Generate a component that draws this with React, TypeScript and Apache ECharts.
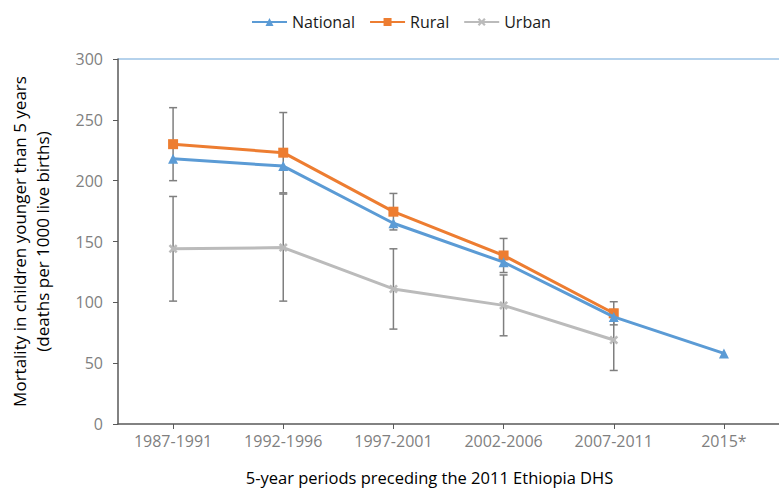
import React, { useEffect, useRef } from "react";
import * as echarts from "echarts";

const categories = ["1987-1991", "1992-1996", "1997-2001", "2002-2006", "2007-2011", "2015*"];
const nationalValues = [218, 212, 165, 133, 88, 58];
const ruralValues = [230, 223, 174.5, 138.5, 91, null];
const urbanValues = [144, 145, 111, 97.5, 69, null];
const ruralErrors = [30, 33, 15, 14, 9.5, null];
const urbanErrors = [43, 44, 33, 25, 25, null];
const yTicks = [0, 50, 100, 150, 200, 250, 300];

const FONT = "'Open Sans', 'Noto Sans', sans-serif";
const X_SYMBOL = "path://M2,0 L5,3 L8,0 L10,2 L7,5 L10,8 L8,10 L5,7 L2,10 L0,8 L3,5 L0,2 Z";

function errorData(values: (number | null)[], errs: (number | null)[]) {
  const out: number[][] = [];
  values.forEach((v, i) => {
    const e = errs[i];
    if (v != null && e != null) out.push([i, v - e, v + e]);
  });
  return out;
}

function errorSeries(name: string, values: (number | null)[], errs: (number | null)[]) {
  return {
    type: "custom",
    name: name + "-err",
    z: 1,
    silent: true,
    data: errorData(values, errs),
    encode: { x: 0, y: [1, 2] },
    renderItem: (params: any, api: any) => {
      const lo = api.coord([api.value(0), api.value(1)]);
      const hi = api.coord([api.value(0), api.value(2)]);
      const half = 4;
      const style = { stroke: "#7F7F7F", lineWidth: 1.5 };
      return {
        type: "group",
        children: [
          { type: "line", shape: { x1: lo[0], y1: lo[1], x2: hi[0], y2: hi[1] }, style },
          { type: "line", shape: { x1: lo[0] - half, y1: lo[1], x2: lo[0] + half, y2: lo[1] }, style },
          { type: "line", shape: { x1: hi[0] - half, y1: hi[1], x2: hi[0] + half, y2: hi[1] }, style },
        ],
      };
    },
  };
}

export default function App() {
  const ref = useRef<HTMLDivElement>(null);
  useEffect(() => {
    if (!ref.current) return;
    const chart = echarts.init(ref.current, undefined, { renderer: "svg" });
    const splitColors = yTicks.map((t) => (t === 300 ? "#9DC3E6" : "rgba(0,0,0,0)"));
    chart.setOption({
      animation: false,
      textStyle: { fontFamily: FONT },
      legend: {
        top: 9,
        left: 246,
        itemWidth: 35,
        itemHeight: 10,
        itemGap: 14,
        textStyle: { fontSize: 16, color: "#1a1a1a", fontFamily: FONT },
        data: ["National", "Rural", "Urban"],
      },
      grid: { left: 118, right: 0, top: 59, bottom: 68, containLabel: false },
      xAxis: {
        type: "category",
        data: categories,
        boundaryGap: true,
        axisLine: { show: true, lineStyle: { color: "#595959", width: 1.5 } },
        axisTick: { show: true, alignWithLabel: true, length: 5, lineStyle: { color: "#595959" } },
        axisLabel: { color: "#7F7F7F", fontSize: 16, margin: 9, fontFamily: FONT },
        name: "5-year periods preceding the 2011 Ethiopia DHS",
        nameLocation: "middle",
        nameGap: 45,
        nameTextStyle: { fontSize: 16.5, color: "#000", fontFamily: FONT, padding: [0, 38, 0, 0] },
      },
      yAxis: {
        type: "value",
        min: 0,
        max: 300,
        interval: 50,
        axisLine: { show: true, lineStyle: { color: "#595959", width: 1.5 } },
        axisTick: { show: true, length: 5, lineStyle: { color: "#595959" } },
        axisLabel: { color: "#7F7F7F", fontSize: 16, margin: 15, fontFamily: FONT },
        splitLine: { show: true, lineStyle: { color: splitColors, width: 1.5 } },
        name: "Mortality in children younger than 5 years\n(deaths per 1000 live births)",
        nameLocation: "middle",
        nameRotate: 90,
        nameGap: 64,
        nameTextStyle: { fontSize: 17, color: "#000", fontFamily: FONT, lineHeight: 23 },
      },
      series: [
        errorSeries("Rural", ruralValues, ruralErrors),
        errorSeries("Urban", urbanValues, urbanErrors),
        {
          type: "line",
          name: "Urban",
          data: urbanValues,
          z: 3,
          symbol: X_SYMBOL,
          symbolSize: 9,
          lineStyle: { color: "#BBBBBB", width: 3 },
          itemStyle: { color: "#BBBBBB" },
        },
        {
          type: "line",
          name: "Rural",
          data: ruralValues,
          z: 4,
          symbol: "rect",
          symbolSize: 10,
          lineStyle: { color: "#ED7D31", width: 3 },
          itemStyle: { color: "#ED7D31" },
        },
        {
          type: "line",
          name: "National",
          data: nationalValues,
          z: 5,
          symbol: "triangle",
          symbolSize: 10,
          lineStyle: { color: "#5B9BD5", width: 3 },
          itemStyle: { color: "#5B9BD5" },
        },
      ],
    });
    return () => chart.dispose();
  }, []);
  return (
    <div
      ref={ref}
      style={{ position: "fixed", left: 0, top: 0, width: 779, height: 492, background: "#fff" }}
    />
  );
}
